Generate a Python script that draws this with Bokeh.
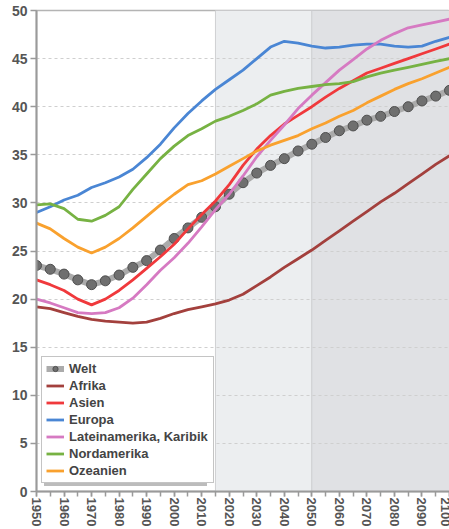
from bokeh.plotting import figure
from bokeh.models import (Range1d, SingleIntervalTicker, Legend, LegendItem)
from bokeh.embed import file_html
from bokeh.resources import INLINE

years = list(range(1950, 2101, 5))

welt = [23.5, 23.1, 22.6, 22.0, 21.5, 21.9, 22.5, 23.3, 24.0, 25.1, 26.3, 27.4, 28.5, 29.6,
        30.9, 32.1, 33.1, 33.9, 34.6, 35.4, 36.1, 36.8, 37.5, 38.0, 38.6, 39.0, 39.5, 40.0,
        40.6, 41.1, 41.7]
afrika = [19.2, 19.0, 18.6, 18.2, 17.9, 17.7, 17.6, 17.5, 17.6, 18.0, 18.5, 18.9, 19.2, 19.5,
          19.9, 20.5, 21.4, 22.3, 23.3, 24.2, 25.1, 26.1, 27.1, 28.1, 29.1, 30.1, 31.0, 32.0,
          33.0, 34.0, 34.9]
asien = [22.0, 21.5, 20.9, 20.0, 19.4, 20.0, 20.9, 22.0, 23.2, 24.4, 25.7, 27.3, 28.8, 30.2,
         31.9, 33.9, 35.6, 37.0, 38.2, 39.1, 40.0, 41.0, 41.9, 42.7, 43.5, 44.0, 44.5, 45.0,
         45.5, 46.0, 46.5]
europa = [29.0, 29.6, 30.3, 30.8, 31.6, 32.1, 32.7, 33.5, 34.7, 36.1, 37.8, 39.3, 40.6, 41.8,
          42.8, 43.8, 45.0, 46.2, 46.8, 46.6, 46.3, 46.1, 46.2, 46.4, 46.5, 46.5, 46.3, 46.2,
          46.3, 46.8, 47.2]
lateinamerika = [20.0, 19.6, 19.1, 18.6, 18.5, 18.6, 19.1, 20.1, 21.5, 23.0, 24.3, 25.8, 27.5,
                 29.3, 30.9, 32.8, 34.8, 36.5, 38.1, 39.8, 41.2, 42.5, 43.8, 44.9, 46.0, 46.9,
                 47.6, 48.2, 48.5, 48.8, 49.1]
nordamerika = [29.8, 29.9, 29.4, 28.3, 28.1, 28.7, 29.6, 31.4, 33.0, 34.6, 35.9, 37.0, 37.7,
               38.5, 39.0, 39.6, 40.3, 41.2, 41.6, 41.9, 42.1, 42.3, 42.4, 42.6, 43.1, 43.5,
               43.8, 44.1, 44.4, 44.7, 45.0]
ozeanien = [27.9, 27.3, 26.3, 25.4, 24.8, 25.4, 26.3, 27.4, 28.6, 29.8, 30.9, 31.9, 32.3, 33.0,
            33.8, 34.6, 35.4, 36.0, 36.5, 37.0, 37.7, 38.3, 39.0, 39.6, 40.4, 41.1, 41.8, 42.4,
            42.9, 43.5, 44.1]

# projection periods (shaded backgrounds)
band_starts = [2015, 2050]
band_ends = [2050, 2100]
band_colors = ["#eceef0", "#e0e1e4"]

series = [
    ("Afrika", afrika, "#a3403d"),
    ("Asien", asien, "#f0393c"),
    ("Europa", europa, "#4a86d4"),
    ("Lateinamerika, Karibik", lateinamerika, "#d67ac2"),
    ("Nordamerika", nordamerika, "#77b243"),
    ("Ozeanien", ozeanien, "#f9a12e"),
]

FONT = "Liberation Sans"

p = figure(frame_width=413, frame_height=481, output_backend="svg", toolbar_location=None,
           x_range=Range1d(1950, 2100), y_range=Range1d(0, 50),
           min_border_left=36, min_border_right=0, min_border_top=10, min_border_bottom=20)
p.background_fill_color = "white"
p.border_fill_color = "white"
p.outline_line_color = "#b4b4b4"
p.outline_line_width = 1.5

p.quad(left=band_starts, right=band_ends, bottom=0, top=50, fill_color=band_colors,
       line_color="#cfd0d3", line_width=1, level="image")

p.xgrid.visible = False
p.ygrid.grid_line_color = "#cfcfcf"
p.ygrid.grid_line_dash = "3 3"
p.ygrid.grid_line_width = 1

p.xaxis.ticker = SingleIntervalTicker(interval=10, num_minor_ticks=2)
p.yaxis.ticker = SingleIntervalTicker(interval=5, num_minor_ticks=0)
for ax in (p.xaxis[0], p.yaxis[0]):
    ax.axis_line_color = "#9a9a9a"
    ax.axis_line_width = 2
    ax.major_tick_line_color = "#9a9a9a"
    ax.minor_tick_line_color = "#9a9a9a"
    ax.major_tick_line_width = 1.5
    ax.minor_tick_line_width = 1.5
    ax.major_tick_in = 0
    ax.minor_tick_in = 0
    ax.major_label_text_font = FONT
    ax.major_label_text_font_style = "bold"
    ax.major_label_text_color = "#555555"
p.xaxis.major_tick_out = 5
p.xaxis.minor_tick_out = 5
p.xaxis.major_label_orientation = "vertical"
p.xaxis.major_label_text_font_size = "13px"
p.xaxis.major_label_standoff = 1
p.yaxis.major_tick_out = 6
p.yaxis.minor_tick_out = 0
p.yaxis.major_label_text_font_size = "14px"
p.yaxis.major_label_standoff = 3

items = []
shadow_items = []
wl = p.line(years, welt, line_color="#ababab", line_width=6)
ws = p.scatter(years, welt, size=10, fill_color="#6f6f6f", line_color="#4f4f4f", line_width=1)
items.append(LegendItem(label="Welt", renderers=[wl, ws]))
shadow_items.append(LegendItem(label=" ", renderers=[wl]))
for name, vals, col in series:
    r = p.line(years, vals, line_color=col, line_width=2.8)
    items.append(LegendItem(label=name, renderers=[r]))
    shadow_items.append(LegendItem(label=" ", renderers=[r]))

common = dict(orientation="vertical", label_text_font=FONT, label_text_font_style="bold",
              label_text_font_size="13px", glyph_width=18, glyph_height=13, label_height=13,
              label_width=140, spacing=2, padding=4, margin=0, label_standoff=5)

# drop shadow behind the legend (blank labels, same box size)
shadow = Legend(items=shadow_items, location=(8, 5),
                border_line_color=None, background_fill_color="#a0a0a0",
                background_fill_alpha=0.7, **common)
p.add_layout(shadow, "center")

legend = Legend(items=items, location=(5, 8), label_text_color="#444444",
                border_line_color="#8a8a8a", border_line_width=1.2,
                background_fill_color="white", background_fill_alpha=1, **common)
p.add_layout(legend, "center")

open("out.html", "w").write(file_html(p, INLINE))
